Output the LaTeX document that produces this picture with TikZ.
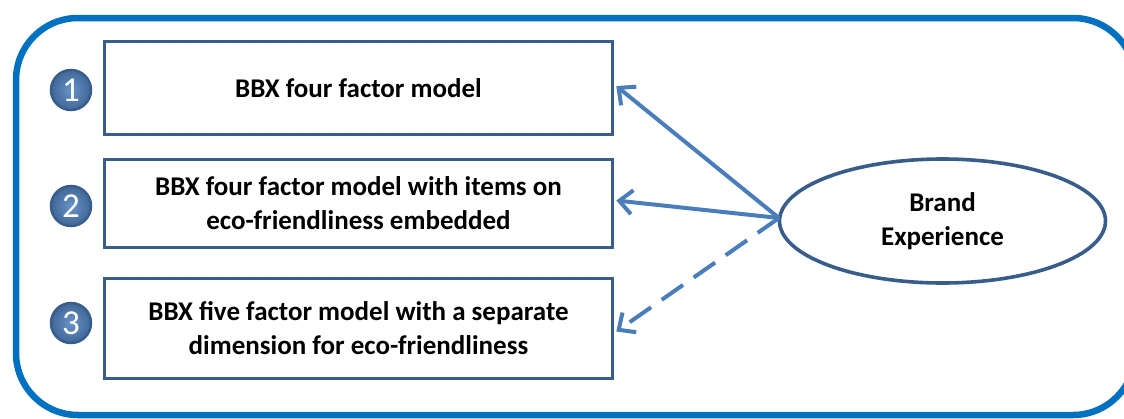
\documentclass[tikz,border=0pt]{standalone}
\usepackage{fontspec}
\setmainfont{Carlito}
\usetikzlibrary{arrows.meta,shapes.geometric}
\definecolor{frameblue}{HTML}{0070C0}
\definecolor{boxblue}{HTML}{385D8A}
\definecolor{arrowblue}{HTML}{4A7EBB}
\definecolor{dotblue}{HTML}{4F81BD}
\tikzset{
  modelbox/.style={draw=boxblue, line width=3.6pt, minimum width=508pt, align=center,
    font=\fontsize{27}{34}\selectfont\bfseries, inner sep=0pt},
  numdot/.style={circle, draw=boxblue, line width=2.5pt, inner color=dotblue!85, outer color=dotblue!80!black,
    minimum size=40pt, inner sep=0pt, text=white, font=\fontsize{35}{35}\selectfont},
  link/.style={draw=arrowblue, line width=4pt, -{Straight Barb[length=13pt,width=24pt,line width=4pt]}},
}
\begin{document}
\begin{tikzpicture}[x=1pt,y=-1pt]
  \clip (0,0) rectangle (1124,418);
  \fill[white] (0,0) rectangle (1124,418);
  % outer frame
  \draw[frameblue, line width=6.5pt, rounded corners=62pt] (16,18) rectangle (1135,415);
  % model boxes
  \node[modelbox, minimum height=93pt] (b1) at (358.5,88) {BBX four factor model};
  \node[modelbox, minimum height=88pt] (b2) at (358.5,203.5) {BBX four factor model with items on\\eco-friendliness embedded};
  \node[modelbox, minimum height=100pt] (b3) at (358.5,328.5) {BBX five factor model with a separate\\dimension for eco-friendliness};
  % numbered markers
  \node[numdot] (n1) at (71,90) {1};
  \node[numdot] (n2) at (71,206) {2};
  \node[numdot] (n3) at (71,323) {3};
  % latent construct
  \node[ellipse, draw=boxblue, line width=3.6pt, minimum width=326pt, minimum height=124pt,
        align=center, font=\fontsize{27}{34}\selectfont\bfseries, inner sep=0pt] (be) at (942.5,221) {Brand\\Experience};
  \coordinate (src) at (779,218);
  % connectors
  \draw[link] (src) -- ([xshift=2pt,yshift=2pt]b1.east);
  \draw[link] (src) -- ([xshift=2pt,yshift=3pt]b2.east);
  \draw[link, dash pattern=on 26pt off 13pt] (src) -- ([xshift=2pt,yshift=-3pt]b3.east);
\end{tikzpicture}
\end{document}
